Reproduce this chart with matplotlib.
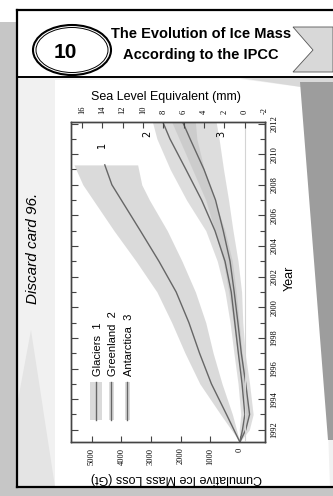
import matplotlib
matplotlib.use("Agg")
import matplotlib.pyplot as plt
from matplotlib.patches import Polygon, Ellipse, Rectangle

# --- data (year, cumulative loss in Gt) ---
glacier_years = [1991.2, 1993, 1995, 1997, 1999, 2001, 2003, 2005, 2007, 2008, 2009.3]
glacier_loss = [0, 450, 960, 1360, 1720, 2150, 2730, 3360, 4000, 4320, 4560]
glacier_low = [0, 250, 600, 900, 1150, 1500, 1950, 2450, 3050, 3310, 3450]
glacier_high = [0, 650, 1350, 1850, 2300, 2800, 3500, 4250, 4950, 5300, 5600]

sheet_years = [1991.2, 1992, 1993, 1995, 1997, 1999, 2001, 2003, 2005, 2007, 2009, 2011, 2012.1]
greenland_loss = [0, -90, -170, -75, 50, 170, 290, 500, 840, 1290, 1820, 2360, 2600]
greenland_low = [0, -200, -300, -200, -80, 20, 120, 250, 500, 850, 1200, 1450, 1500]
greenland_high = [0, 20, -30, 60, 200, 330, 500, 760, 1150, 1800, 2350, 2800, 2950]
antarctica_loss = [0, -200, -330, -200, -50, 65, 190, 330, 560, 820, 1210, 1680, 1930]
antarctica_low = [0, -320, -450, -330, -180, -100, -60, 60, 230, 380, 550, 700, 800]
antarctica_high = [0, -80, -200, -80, 80, 220, 380, 560, 850, 1150, 1600, 2050, 2300]

year_ticks = list(range(1992, 2013, 2))
mass_ticks = [0, 1000, 2000, 3000, 4000, 5000]
sea_ticks = [-2, 0, 2, 4, 6, 8, 10, 12, 14, 16]
legend_labels = ["Glaciers  1", "Greenland  2", "Antarctica  3"]

W, H = 333, 496
fig = plt.figure(figsize=(W / 100, H / 100), dpi=100)

# background card in pixel coordinates
bg = fig.add_axes([0, 0, 1, 1], zorder=0)
bg.set_xlim(0, W)
bg.set_ylim(H, 0)
bg.axis("off")

bg.add_patch(Rectangle((0, 22), 17, H - 22, color="#c6c6c6", lw=0))
bg.add_patch(Rectangle((0, 487), W, 10, color="#c6c6c6", lw=0))
bg.add_patch(Rectangle((17, 78), W - 17, 409, color="#f1f1f1", lw=0))
bg.add_patch(Polygon([(18, 400), (31, 330), (55, 487), (18, 487)], color="#e4e4e4", lw=0))
bg.add_patch(Polygon([(55, 80), (240, 79), (308, 88), (328, 430), (330, 487), (55, 487)],
                     color="white", lw=0))
bg.add_patch(Polygon([(240, 78), (W, 78), (W, 88), (308, 88)], color="#d9d9d9", lw=0))
bg.add_patch(Polygon([(300, 82), (W, 82), (W, 440), (328, 440)], color="#9d9d9d", lw=0))

# header
bg.add_patch(Polygon([(293, 27), (W, 27), (W, 72), (293, 72), (313, 50)],
                     facecolor="#d8d8d8", edgecolor="#555555", lw=0.6))
bg.plot([17, W], [10, 10], color="black", lw=1.6)
bg.plot([17, W], [77, 77], color="black", lw=1.4)
bg.plot([17, W], [487, 487], color="black", lw=1.6)
bg.plot([17, 17], [10, 487], color="black", lw=1.6)
bg.add_patch(Ellipse((72, 50), 78, 50, fill=False, ec="black", lw=1.5))
bg.add_patch(Ellipse((72, 50), 72, 45, fill=False, ec="black", lw=0.7))

# chart, drawn already turned a quarter: mass loss runs right-to-left, years bottom-to-top
ax = fig.add_axes([71 / W, 1 - 442 / H, 194 / W, 320 / H], zorder=2)
ax.set_facecolor("white")

band = "#bdbdbd"
line = "#666666"
ax.fill_betweenx(glacier_years, glacier_low, glacier_high, color=band, alpha=0.55, lw=0)
ax.fill_betweenx(sheet_years, greenland_low, greenland_high, color=band, alpha=0.5, lw=0)
ax.fill_betweenx(sheet_years, antarctica_low, antarctica_high, color=band, alpha=0.5, lw=0)
ax.plot(glacier_loss, glacier_years, color=line, lw=1.0)
ax.plot(greenland_loss, sheet_years, color=line, lw=1.0)
ax.plot(antarctica_loss, sheet_years, color=line, lw=1.0)

ax.text(4660, 2010.6, "1", rotation=90, fontsize=7, ha="center", va="center")
ax.text(3140, 2011.3, "2", rotation=90, fontsize=7, ha="center", va="center")
ax.text(610, 2011.3, "3", rotation=90, fontsize=7, ha="center", va="center")

ax.set_xlim(5700, -850)
ax.set_ylim(1991.2, 2012.1)

tick_font = dict(family="Liberation Serif", size=6)
ax.set_xticks(mass_ticks, [str(m) for m in mass_ticks], rotation=90, fontdict=tick_font)
ax.set_yticks(year_ticks, [str(y) for y in year_ticks], rotation=90, va="center",
              fontdict=tick_font)
ax.set_yticks(range(1992, 2013), minor=True)
ax.yaxis.tick_right()
ax.tick_params(axis="y", which="both", left=True, right=True, labelleft=False,
               labelright=True, direction="in", width=0.8, color="#444444", pad=4)
ax.tick_params(axis="y", which="major", length=5)
ax.tick_params(axis="y", which="minor", length=3.5)
ax.tick_params(axis="x", direction="in", length=4, width=0.8, color="#444444", pad=4)

ax2 = ax.twiny()
ax2.set_xlim(17.06, -2)
ax2.axvline(0, color="#d4d4d4", lw=0.8, zorder=0)
ax2.set_xticks(sea_ticks, [str(s) for s in sea_ticks], rotation=90, fontdict=tick_font)
ax2.tick_params(axis="x", direction="in", length=4, width=0.8, color="#444444", pad=6)

for a in (ax, ax2):
    for sp in a.spines.values():
        sp.set_color("#444444")
        sp.set_linewidth(1.0)

# overlay for texts and the turned legend
ov = fig.add_axes([0, 0, 1, 1], zorder=5)
ov.set_xlim(0, W)
ov.set_ylim(H, 0)
ov.axis("off")
ov.patch.set_visible(False)

ov.text(65, 53, "10", fontsize=15, fontweight="bold", family="Liberation Sans",
        ha="center", va="center")
ov.text(201, 34, "The Evolution of Ice Mass", fontsize=10.5, fontweight="bold",
        family="Liberation Sans", ha="center", va="center")
ov.text(201, 55, "According to the IPCC", fontsize=10.5, fontweight="bold",
        family="Liberation Sans", ha="center", va="center")
ov.text(33, 248, "Discard card 96.", rotation=90, fontsize=11, style="italic",
        family="Liberation Sans", ha="center", va="center")

ov.text(166, 97, "Sea Level Equivalent (mm)", fontsize=9, family="Liberation Sans",
        ha="center", va="center")
ov.text(290, 278, "Year", rotation=90, fontsize=9, family="Liberation Sans",
        ha="center", va="center")
ov.text(176, 478, "Cumulative Ice Mass Loss (Gt)", rotation=180, fontsize=9,
        family="Liberation Sans", ha="center", va="center")

swatch_x = [96, 111, 127]
swatch_w = [12, 5, 5]
for x, w, lab in zip(swatch_x, swatch_w, legend_labels):
    ov.add_patch(Rectangle((x - w / 2, 382), w, 38, color=band, alpha=0.55, lw=0))
    ov.plot([x, x], [382, 420], color=line, lw=1.0)
    ov.text(x + 2, 376, lab, rotation=90, fontsize=8, family="Liberation Sans",
            ha="center", va="bottom")

fig.savefig("out.png", dpi=100)
